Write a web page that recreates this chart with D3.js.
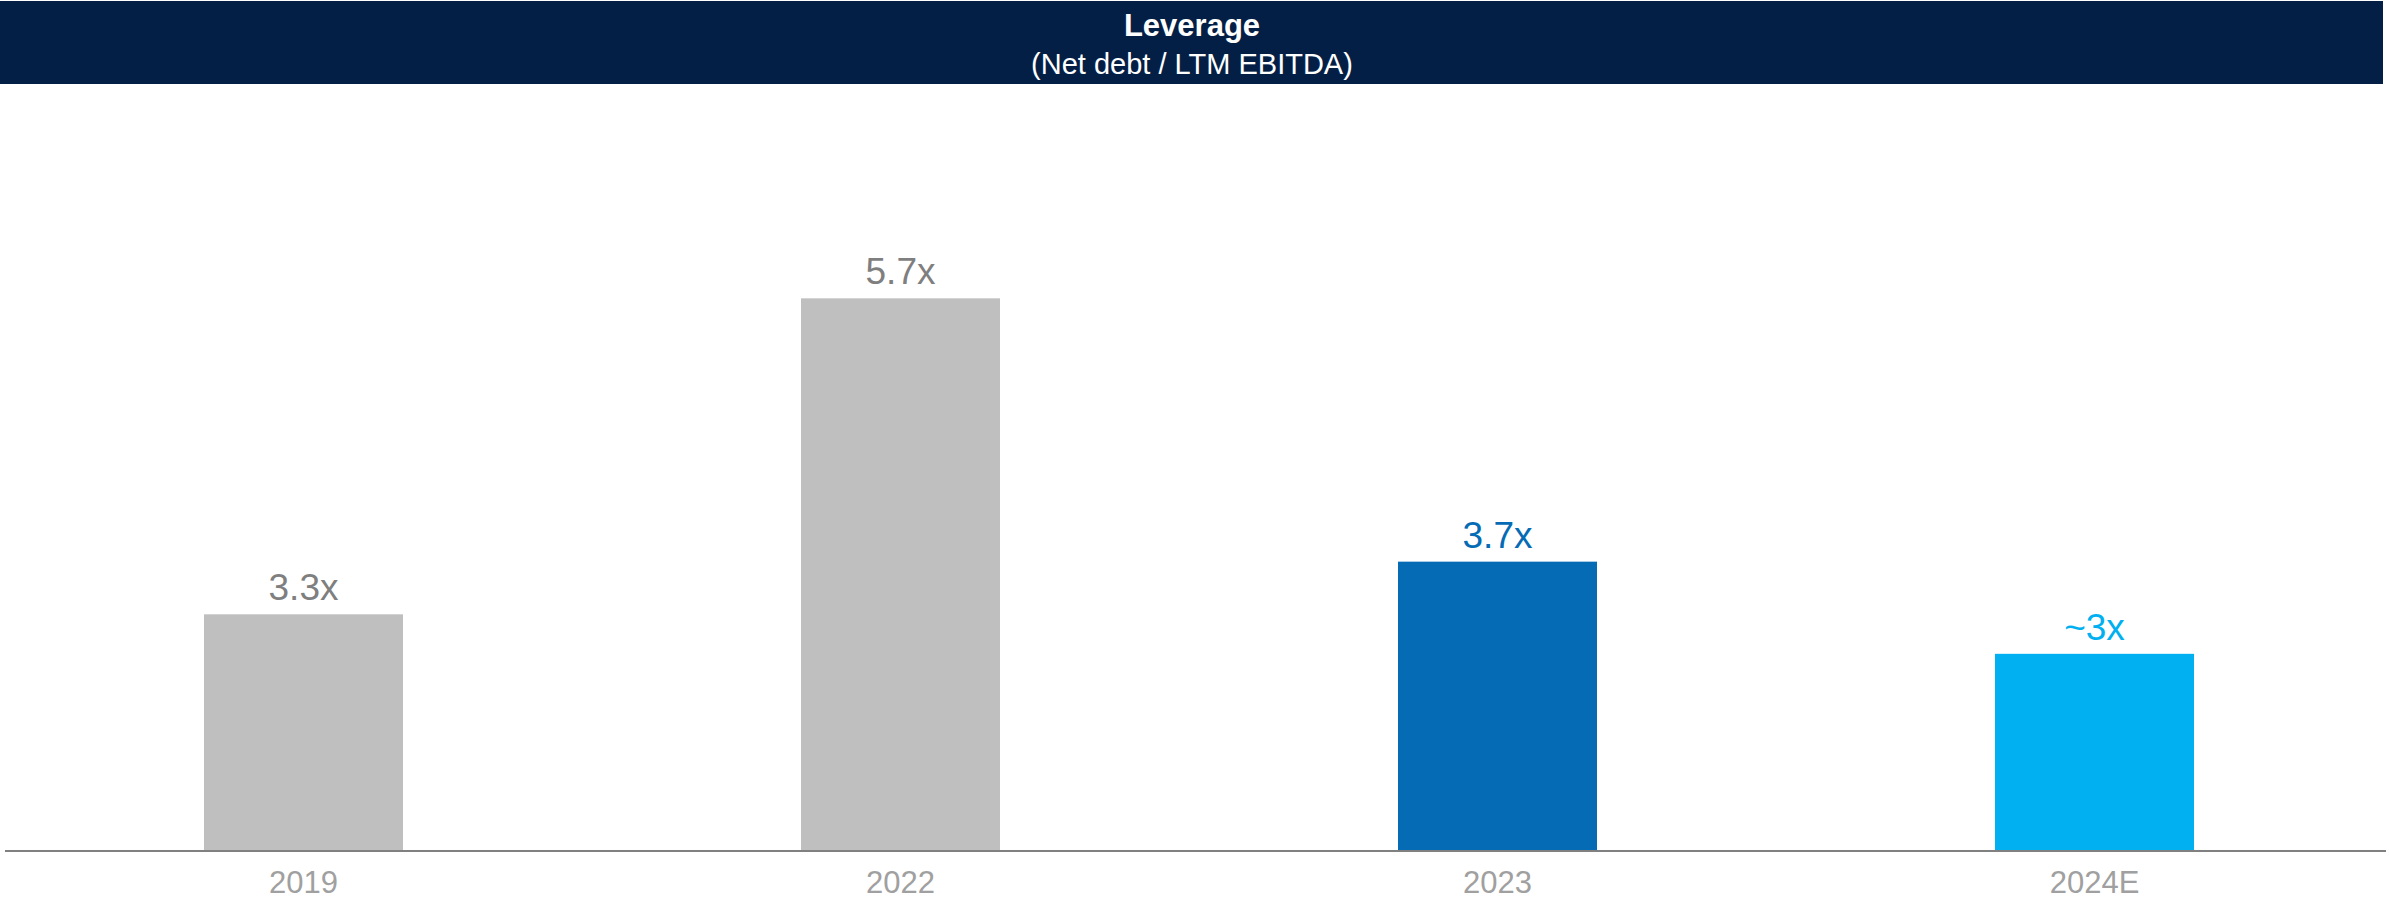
<!DOCTYPE html>
<html>
<head>
<meta charset="utf-8">
<script src="https://cdn.jsdelivr.net/npm/d3@7"></script>
<style>
  body { margin: 0; background: #fff; }
  svg text { font-family: Arial, "Liberation Sans", sans-serif; }
</style>
</head>
<body>
<svg id="chart" width="2389" height="899"></svg>
<script>
// chart data
var categories = ['2019', '2022', '2023', '2024E']
var values = [3.3, 5.7, 3.7, 3.0]
var valueLabels = ['3.3x', '5.7x', '3.7x', '~3x']
var barColors = ['#bfbfbf', '#bfbfbf', '#056bb5', '#00b0f0']
var labelColors = ['#7f7f7f', '#7f7f7f', '#056bb5', '#00b0f0']

var svg = d3.select('#chart')

// header band
svg.append('rect')
    .attr('x', 0)
    .attr('y', 1)
    .attr('width', 2383)
    .attr('height', 83)
    .attr('fill', '#041f45')

svg.append('text')
    .attr('x', 1192)
    .attr('y', 36)
    .attr('text-anchor', 'middle')
    .attr('fill', '#fff')
    .attr('font-weight', 'bold')
    .attr('font-size', 31)
    .text('Leverage')

svg.append('text')
    .attr('x', 1192)
    .attr('y', 74)
    .attr('text-anchor', 'middle')
    .attr('fill', '#fff')
    .attr('font-size', 29)
    .text('(Net debt / LTM EBITDA)')

// scales - value axis does not start at zero in the source
var x = d3.scaleBand()
    .domain(categories)
    .range([5, 2393])
    .paddingInner(2 / 3)
    .paddingOuter(1 / 3)

var y = d3.scaleLinear()
    .domain([1.51, 6.5])
    .range([850, 193])

var data = categories.map(function (c, i) {
    return { cat: c, value: values[i], label: valueLabels[i], color: barColors[i], lc: labelColors[i] }
})

svg.selectAll('.bar')
    .data(data)
    .enter()
    .append('rect')
    .attr('class', 'bar')
    .attr('x', function (d) { return x(d.cat) })
    .attr('width', x.bandwidth())
    .attr('y', function (d) { return y(d.value) })
    .attr('height', function (d) { return y.range()[0] - y(d.value) })
    .attr('fill', function (d) { return d.color })

svg.selectAll('.vlabel')
    .data(data)
    .enter()
    .append('text')
    .attr('class', 'vlabel')
    .attr('x', function (d) { return x(d.cat) + x.bandwidth() / 2 })
    .attr('y', function (d) { return y(d.value) - 14 })
    .attr('text-anchor', 'middle')
    .attr('font-size', 37)
    .attr('fill', function (d) { return d.lc })
    .text(function (d) { return d.label })

// category axis
var axis = svg.append('g')
    .attr('transform', 'translate(0,851)')
    .call(d3.axisBottom(x).tickSize(0).tickPadding(20))

axis.select('.domain').remove()
axis.selectAll('text')
    .attr('font-size', 31)
    .attr('fill', '#a0a0a0')
    .attr('dy', '0.71em')
    .attr('y', 20)

svg.append('line')
    .attr('x1', 5)
    .attr('x2', 2386)
    .attr('y1', 851)
    .attr('y2', 851)
    .attr('stroke', '#808080')
    .attr('stroke-width', 2)
</script>
</body>
</html>
